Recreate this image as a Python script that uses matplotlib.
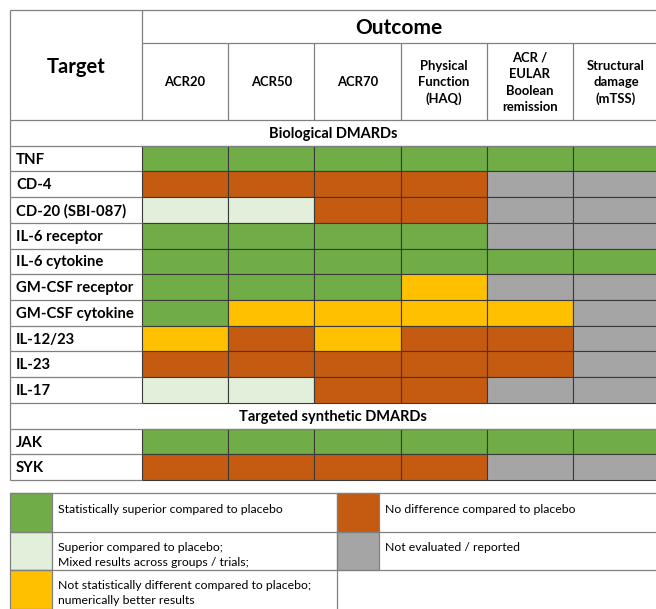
import matplotlib.pyplot as plt
from matplotlib.patches import Rectangle

plt.rcParams["font.family"] = ["Lato", "DejaVu Sans"]

# ------------------------------------------------------------------
# 데이터
# ------------------------------------------------------------------
outcomes = [
    "ACR20",
    "ACR50",
    "ACR70",
    "Physical\nFunction\n(HAQ)",
    "ACR /\nEULAR\nBoolean\nremission",
    "Structural\ndamage\n(mTSS)",
]

bio_targets = [
    "TNF", "CD-4", "CD-20 (SBI-087)", "IL-6 receptor", "IL-6 cytokine",
    "GM-CSF receptor", "GM-CSF cytokine", "IL-12/23", "IL-23", "IL-17",
]
bio_status = [
    "GGGGGG",
    "OOOONN",
    "LLOONN",
    "GGGGNN",
    "GGGGGG",
    "GGGYNN",
    "GYYYYN",
    "YOYOON",
    "OOOOON",
    "LLOONN",
]

syn_targets = ["JAK", "SYK"]
syn_status = [
    "GGGGGG",
    "OOOONN",
]

sections = [
    ("Biological DMARDs", bio_targets, bio_status),
    ("Targeted synthetic DMARDs", syn_targets, syn_status),
]

colors = {
    "G": "#70AD47",
    "O": "#C55A11",
    "L": "#E2EFDA",
    "Y": "#FFC000",
    "N": "#A5A5A5",
}

legend_left = [
    ("G", "Statistically superior compared to placebo"),
    ("L", "Superior compared to placebo;\nMixed results across groups / trials;"),
    ("Y", "Not statistically different compared to placebo;\nnumerically better results"),
]
legend_right = [
    ("O", "No difference compared to placebo"),
    ("N", "Not evaluated / reported"),
]

# ------------------------------------------------------------------
# 레이아웃 (픽셀 좌표)
# ------------------------------------------------------------------
W, H = 656, 609
left, right, top = 10, 656, 10
label_right = 142
col_w = 86.2
outcome_line = 43
header_bottom = 120
row_h = 25.72
grid_gray = "#808080"
cell_edge = "#3a3a3a"

fig = plt.figure(figsize=(W / 100, H / 100), dpi=100)
ax = fig.add_axes([0, 0, 1, 1])
ax.set_xlim(0, W)
ax.set_ylim(H, 0)
ax.axis("off")


def hline(y, x0, x1, color=grid_gray, lw=0.9):
    ax.plot([x0, x1], [y, y], color=color, lw=lw, solid_capstyle="butt")


def vline(x, y0, y1, color=grid_gray, lw=0.9):
    ax.plot([x, x], [y0, y1], color=color, lw=lw, solid_capstyle="butt")


# 헤더
hline(top, left, right)
hline(outcome_line, label_right, right)
hline(header_bottom, left, right)
vline(left, top, header_bottom)
vline(label_right, top, header_bottom)
ax.text((left + label_right) / 2, (top + header_bottom) / 2 + 2, "Target",
        ha="center", va="center", fontsize=14.5, fontweight="bold")
ax.text((label_right + right) / 2, (top + outcome_line) / 2 + 1, "Outcome",
        ha="center", va="center", fontsize=15, fontweight="bold")
for j, name in enumerate(outcomes):
    x0 = label_right + j * col_w
    if j > 0:
        vline(x0, outcome_line, header_bottom)
    ax.text(x0 + col_w / 2, (outcome_line + header_bottom) / 2 + 1, name,
            ha="center", va="center", fontsize=9.4, fontweight="bold",
            linespacing=1.45)

# 본문
y = header_bottom
for title, targets, status in sections:
    ax.text((left + right) / 2, y + row_h / 2 + 1, title,
            ha="center", va="center", fontsize=10.5, fontweight="bold")
    vline(left, y, y + row_h)
    y += row_h
    hline(y, left, right)
    for target, codes in zip(targets, status):
        vline(left, y, y + row_h)
        ax.text(left + 6, y + row_h / 2 + 1, target,
                ha="left", va="center", fontsize=10.7, fontweight="bold")
        for j, code in enumerate(codes):
            x0 = label_right + j * col_w
            ax.add_patch(Rectangle((x0, y), col_w, row_h,
                                   facecolor=colors[code],
                                   edgecolor=cell_edge, lw=0.8))
        y += row_h
        hline(y, left, label_right)

# 범례
leg_top = 493
leg_h = 38.5
box_w = 42
mid_x = 337
hline(leg_top, left, right)
for i, (code, text) in enumerate(legend_left):
    y0 = leg_top + i * leg_h
    ax.add_patch(Rectangle((left, y0), box_w, leg_h,
                           facecolor=colors[code], edgecolor=grid_gray, lw=0.9))
    dy = 4 if "\n" in text else -3
    ax.text(left + box_w + 6, y0 + leg_h / 2 + dy,
            text, ha="left", va="center", fontsize=8.8, linespacing=1.4)
    if i > 0:
        hline(y0, left, right)
vline(mid_x, leg_top, H)
for i, (code, text) in enumerate(legend_right):
    y0 = leg_top + i * leg_h
    ax.add_patch(Rectangle((mid_x, y0), box_w, leg_h,
                           facecolor=colors[code], edgecolor=grid_gray, lw=0.9))
    ax.text(mid_x + box_w + 6, y0 + leg_h / 2 - 3, text,
            ha="left", va="center", fontsize=8.8)

fig.savefig("out.png", dpi=100)
plt.close(fig)
